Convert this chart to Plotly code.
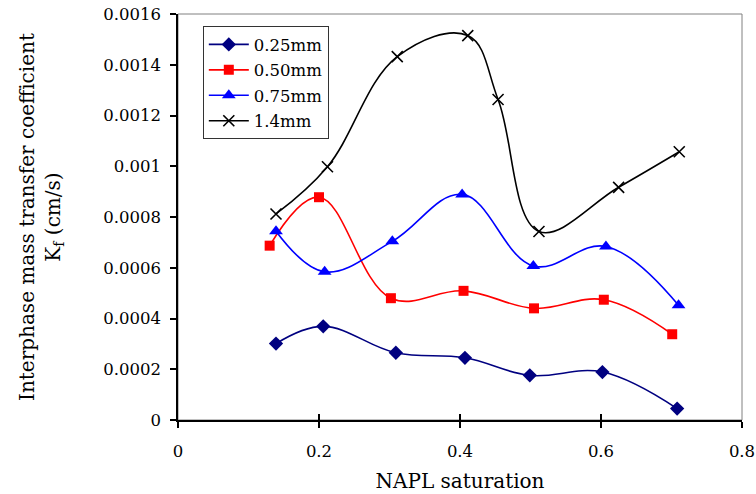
import plotly.graph_objects as go

# Data
x_025 = [0.139, 0.206, 0.309, 0.407, 0.499, 0.602, 0.708]
y_025 = [0.000301, 0.000369, 0.000265, 0.000245, 0.000176, 0.000189, 0.000045]

x_050 = [0.130, 0.200, 0.302, 0.405, 0.505, 0.604, 0.701]
y_050 = [0.000687, 0.000878, 0.000480, 0.000509, 0.000440, 0.000474, 0.000338]

x_075 = [0.139, 0.208, 0.304, 0.403, 0.504, 0.607, 0.710]
y_075 = [0.000744, 0.000584, 0.000704, 0.000889, 0.000607, 0.000684, 0.000452]

x_14 = [0.139, 0.212, 0.311, 0.411, 0.454, 0.512, 0.625, 0.711]
y_14 = [0.000812, 0.000998, 0.001432, 0.001515, 0.001263, 0.000743, 0.000917, 0.001057]

series_names = ["0.25mm", "0.50mm", "0.75mm", "1.4mm"]

x_tickvals = [0, 0.2, 0.4, 0.6, 0.8]
x_ticktext = ["0", "0.2", "0.4", "0.6", "0.8"]
y_tickvals = [0, 0.0002, 0.0004, 0.0006, 0.0008, 0.001, 0.0012, 0.0014, 0.0016]
y_ticktext = ["0", "0.0002", "0.0004", "0.0006", "0.0008", "0.001", "0.0012", "0.0014", "0.0016"]

FONT = "DejaVu Serif"

fig = go.Figure()

styles = [
    (x_025, y_025, "#000080", dict(symbol="diamond", size=11, color="#000080")),
    (x_050, y_050, "#FF0000", dict(symbol="square", size=10, color="#FF0000")),
    (x_075, y_075, "#0000FF", dict(symbol="triangle-up", size=12, color="#0000FF")),
    (x_14, y_14, "#000000", dict(symbol="x-thin", size=11, color="#000000",
                                 line=dict(width=1.6, color="#000000"))),
]

for name, (xs, ys, col, mk) in zip(series_names, styles):
    fig.add_trace(go.Scatter(
        x=xs, y=ys, name=name, mode="lines+markers",
        line=dict(color=col, width=1.6, shape="spline", smoothing=1.1),
        marker=mk, legendgroup=name,
    ))

# invisible trace on overlaid axis for inside ticks (cross ticks on x axis)
fig.add_trace(go.Scatter(x=[0], y=[0], xaxis="x2", mode="markers",
                         marker=dict(opacity=0), showlegend=False, hoverinfo="skip"))

fig.update_layout(
    width=756, height=494,
    margin=dict(l=178, r=14, t=14, b=74),
    plot_bgcolor="white", paper_bgcolor="white",
    font=dict(family=FONT, size=16.5, color="black"),
    showlegend=True,
    legend=dict(x=0.044, y=0.97, xanchor="left", yanchor="top",
                bordercolor="#333333", borderwidth=1, bgcolor="white",
                font=dict(family=FONT, size=16.5), tracegroupgap=1,
                itemwidth=40),
    xaxis=dict(range=[0, 0.8], tickvals=x_tickvals, ticktext=x_ticktext,
               showgrid=False, zeroline=False, showline=True, linecolor="black",
               linewidth=1.5, ticks="outside", ticklen=6, tickwidth=1.5, tickcolor="black",
               ticklabelstandoff=9, automargin=False,
               title=dict(text="NAPL saturation", font=dict(size=20, family=FONT), standoff=14)),
    xaxis2=dict(range=[0, 0.8], overlaying="x", tickvals=x_tickvals, showticklabels=False,
                ticks="inside", ticklen=6, tickwidth=1.5, tickcolor="black",
                showgrid=False, zeroline=False, showline=False, side="bottom",
                automargin=False),
    yaxis=dict(range=[0, 0.0016], tickvals=y_tickvals, ticktext=y_ticktext,
               showgrid=False, zeroline=False, showline=True, linecolor="black",
               linewidth=1.5, ticks="outside", ticklen=6, tickwidth=1.5, tickcolor="black",
               ticklabelstandoff=6, automargin=False,
               title=dict(text="Interphase mass transfer coefficient<br>K<sub>f</sub> (cm/s)",
                          font=dict(size=20, family=FONT), standoff=37)),
    shapes=[dict(type="rect", xref="paper", yref="paper", x0=0, y0=0, x1=1, y1=1,
                 line=dict(color="#808080", width=1), layer="below")],
)

fig.write_html("out.html", config={"displayModeBar": False},
               post_script="document.body.style.margin='0';document.body.style.overflow='hidden';")
